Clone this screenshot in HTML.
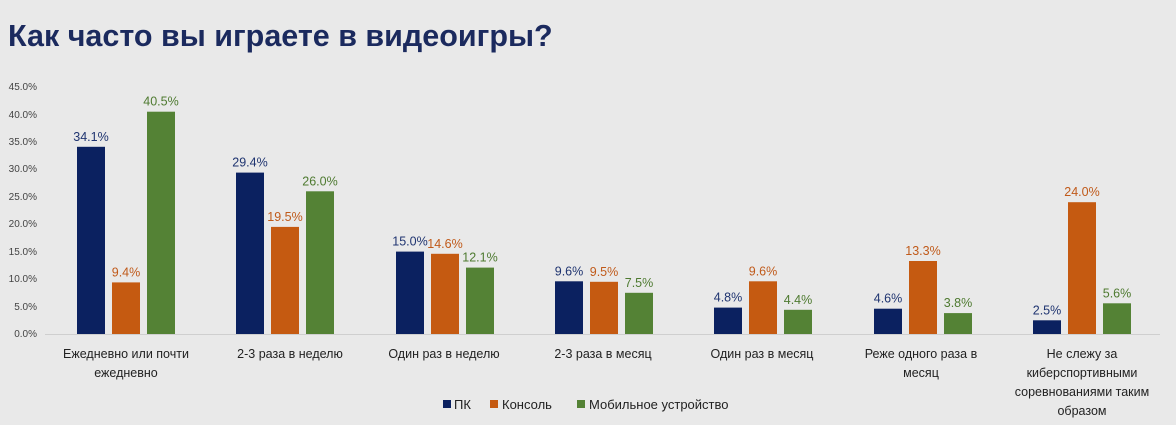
<!DOCTYPE html>
<html><head><meta charset="utf-8"><style>
body{margin:0;background:#e9e9e9;}
svg{display:block;font-family:"Liberation Sans","DejaVu Sans",sans-serif;}
</style></head><body>
<svg width="1176" height="425" xmlns="http://www.w3.org/2000/svg">
<rect width="1176" height="425" fill="#e9e9e9"/>
<text x="8" y="46" font-size="30.5" font-weight="bold" fill="#1b2a5e">Как часто вы играете в видеоигры?</text>
<g font-size="10" fill="#444" text-anchor="end">
<text x="37" y="337">0.0%</text><text x="37" y="310">5.0%</text><text x="37" y="282">10.0%</text><text x="37" y="255">15.0%</text><text x="37" y="227">20.0%</text><text x="37" y="200">25.0%</text><text x="37" y="172">30.0%</text><text x="37" y="145">35.0%</text><text x="37" y="118">40.0%</text><text x="37" y="90">45.0%</text>
</g>
<line x1="45" y1="334.5" x2="1160" y2="334.5" stroke="#cfcfcf"/>
<g fill="#0b2160">
<rect x="77" y="146.8" width="28" height="187.2"/>
<rect x="236" y="172.6" width="28" height="161.4"/>
<rect x="396" y="251.6" width="28" height="82.4"/>
<rect x="555" y="281.3" width="28" height="52.7"/>
<rect x="714" y="307.6" width="28" height="26.4"/>
<rect x="874" y="308.7" width="28" height="25.3"/>
<rect x="1033" y="320.3" width="28" height="13.7"/>
</g>
<g fill="#c55a11">
<rect x="112" y="282.4" width="28" height="51.6"/>
<rect x="271" y="226.9" width="28" height="107.1"/>
<rect x="431" y="253.8" width="28" height="80.2"/>
<rect x="590" y="281.8" width="28" height="52.2"/>
<rect x="749" y="281.3" width="28" height="52.7"/>
<rect x="909" y="261" width="28" height="73"/>
<rect x="1068" y="202.2" width="28" height="131.8"/>
</g>
<g fill="#548235">
<rect x="147" y="111.7" width="28" height="222.3"/>
<rect x="306" y="191.3" width="28" height="142.7"/>
<rect x="466" y="267.6" width="28" height="66.4"/>
<rect x="625" y="292.8" width="28" height="41.2"/>
<rect x="784" y="309.8" width="28" height="24.2"/>
<rect x="944" y="313.1" width="28" height="20.9"/>
<rect x="1103" y="303.3" width="28" height="30.7"/>
</g>
<g font-size="12.5" text-anchor="middle" fill="#1f3470">
<text x="91" y="140.8">34.1%</text>
<text x="250" y="166.6">29.4%</text>
<text x="410" y="245.6">15.0%</text>
<text x="569" y="275.3">9.6%</text>
<text x="728" y="301.6">4.8%</text>
<text x="888" y="302.7">4.6%</text>
<text x="1047" y="314.3">2.5%</text>
</g>
<g font-size="12.5" text-anchor="middle" fill="#c05a1a">
<text x="126" y="276.4">9.4%</text>
<text x="285" y="220.9">19.5%</text>
<text x="445" y="247.8">14.6%</text>
<text x="604" y="275.8">9.5%</text>
<text x="763" y="275.3">9.6%</text>
<text x="923" y="255">13.3%</text>
<text x="1082" y="196.2">24.0%</text>
</g>
<g font-size="12.5" text-anchor="middle" fill="#4e7a30">
<text x="161" y="105.7">40.5%</text>
<text x="320" y="185.3">26.0%</text>
<text x="480" y="261.6">12.1%</text>
<text x="639" y="286.8">7.5%</text>
<text x="798" y="303.8">4.4%</text>
<text x="958" y="307.1">3.8%</text>
<text x="1117" y="297.3">5.6%</text>
</g>
<g font-size="12.5" fill="#222" text-anchor="middle">
<text x="126" y="358">Ежедневно или почти</text><text x="126" y="377">ежедневно</text>
<text x="290" y="358">2-3 раза в неделю</text>
<text x="444" y="358">Один раз в неделю</text>
<text x="603" y="358">2-3 раза в месяц</text>
<text x="762" y="358">Один раз в месяц</text>
<text x="921" y="358">Реже одного раза в</text><text x="921" y="377">месяц</text>
<text x="1082" y="358">Не слежу за</text><text x="1082" y="377">киберспортивными</text><text x="1082" y="396">соревнованиями таким</text><text x="1082" y="415">образом</text>
</g>
<g font-size="13" fill="#222">
<rect x="443" y="400" width="8" height="8" fill="#0b2160"/><text x="454" y="409">ПК</text>
<rect x="490" y="400" width="8" height="8" fill="#c55a11"/><text x="502" y="409">Консоль</text>
<rect x="577" y="400" width="8" height="8" fill="#548235"/><text x="589" y="409">Мобильное устройство</text>
</g>
</svg>
</body></html>
